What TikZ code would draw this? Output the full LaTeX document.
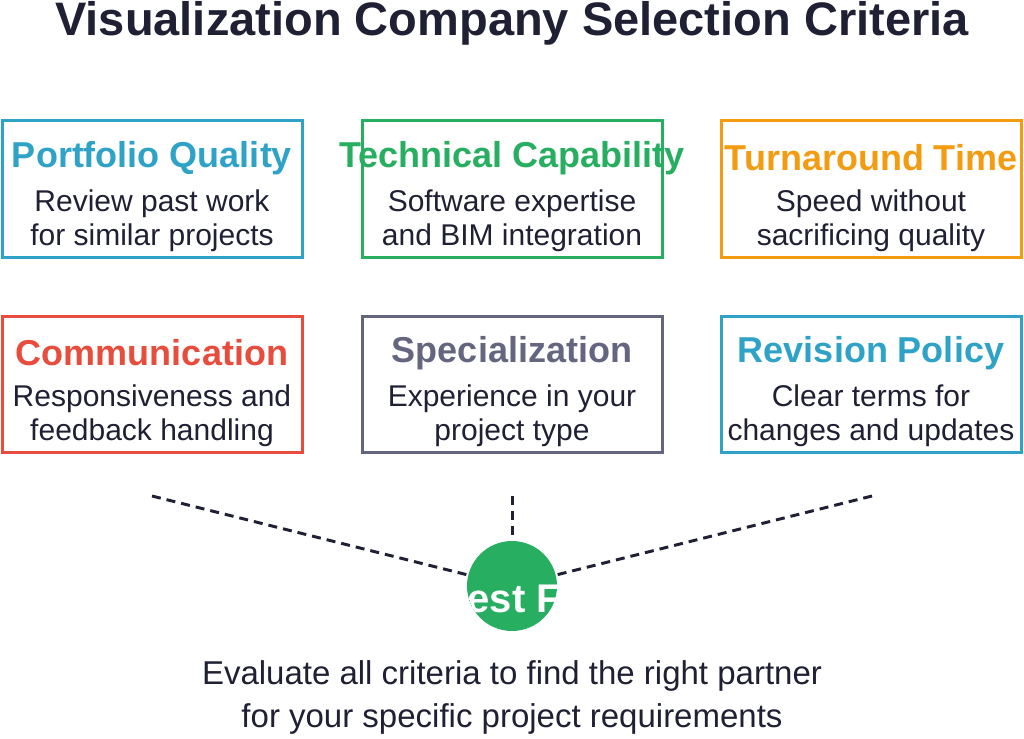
\documentclass[tikz,border=0pt]{standalone}
\usepackage{fontspec}
\setmainfont{Liberation Sans}
\definecolor{ink}{HTML}{1F2033}
\definecolor{cblue}{HTML}{2EA3C7}
\definecolor{cgreen}{HTML}{27AE60}
\definecolor{corange}{HTML}{F39C12}
\definecolor{cred}{HTML}{E74C3C}
\definecolor{cgray}{HTML}{64667F}
\begin{document}
\begin{tikzpicture}[x=1pt,y=-1pt,
  card/.style={draw=#1,line width=3pt,minimum width=300pt,minimum height=136pt,inner sep=0pt},
  head/.style={text=#1,font=\fontsize{36}{42}\selectfont\bfseries,inner sep=0pt},
  body/.style={text=ink,font=\fontsize{30}{34}\selectfont,align=center,inner sep=0pt},
  dash line/.style={draw=ink,line width=3pt,dash pattern=on 9pt off 6pt}]
\useasboundingbox (0,0) rectangle (1024,738);
\node[text=ink,font=\fontsize{47}{54}\selectfont\bfseries,inner sep=0pt,anchor=base] (title) at (512,36) {Visualization Company Selection Criteria};
% row 1
\node[card=cblue] (b1) at (152,189) {};
\node[head=cblue] (h1) at (152,158) {Portfolio Quality};
\node[body] (t1) at (152,221) {Review past work\\for similar projects};
\node[card=cgreen] (b2) at (512,189) {};
\node[head=cgreen] (h2) at (512,158) {Technical Capability};
\node[body] (t2) at (512,221) {Software expertise\\and BIM integration};
\node[card=corange] (b3) at (871,189) {};
\node[head=corange] (h3) at (871,158) {Turnaround Time};
\node[body] (t3) at (871,221) {Speed without\\sacrificing quality};
% row 2
\node[card=cred] (b4) at (152,384) {};
\node[head=cred] (h4) at (152,353) {Communication};
\node[body] (t4) at (152,416) {Responsiveness and\\feedback handling};
\node[card=cgray] (b5) at (512,384) {};
\node[head=cgray] (h5) at (512,353) {Specialization};
\node[body] (t5) at (512,416) {Experience in your\\project type};
\node[card=cblue] (b6) at (871,384) {};
\node[head=cblue] (h6) at (871,353) {Revision Policy};
\node[body] (t6) at (871,416) {Clear terms for\\changes and updates};
% connectors
\coordinate (c) at (512,586);
\coordinate (l1) at (152,496);
\coordinate (l2) at (512,496);
\coordinate (l3) at (872,496);
\draw[dash line] (l1) -- (c);
\draw[dash line] (l2) -- (c);
\draw[dash line] (l3) -- (c);
\node[circle,fill=cgreen,minimum size=90pt,inner sep=0pt] (fit) at (c) {};
\begin{scope}
\clip (c) circle (45pt);
\node[text=white,font=\fontsize{40}{46}\selectfont\bfseries,inner sep=0pt] (fitlabel) at (512,598) {Best Fit};
\end{scope}
\node[body,font=\fontsize{33}{43}\selectfont] (note) at (512,697) {Evaluate all criteria to find the right partner\\for your specific project requirements};
\end{tikzpicture}
\end{document}
